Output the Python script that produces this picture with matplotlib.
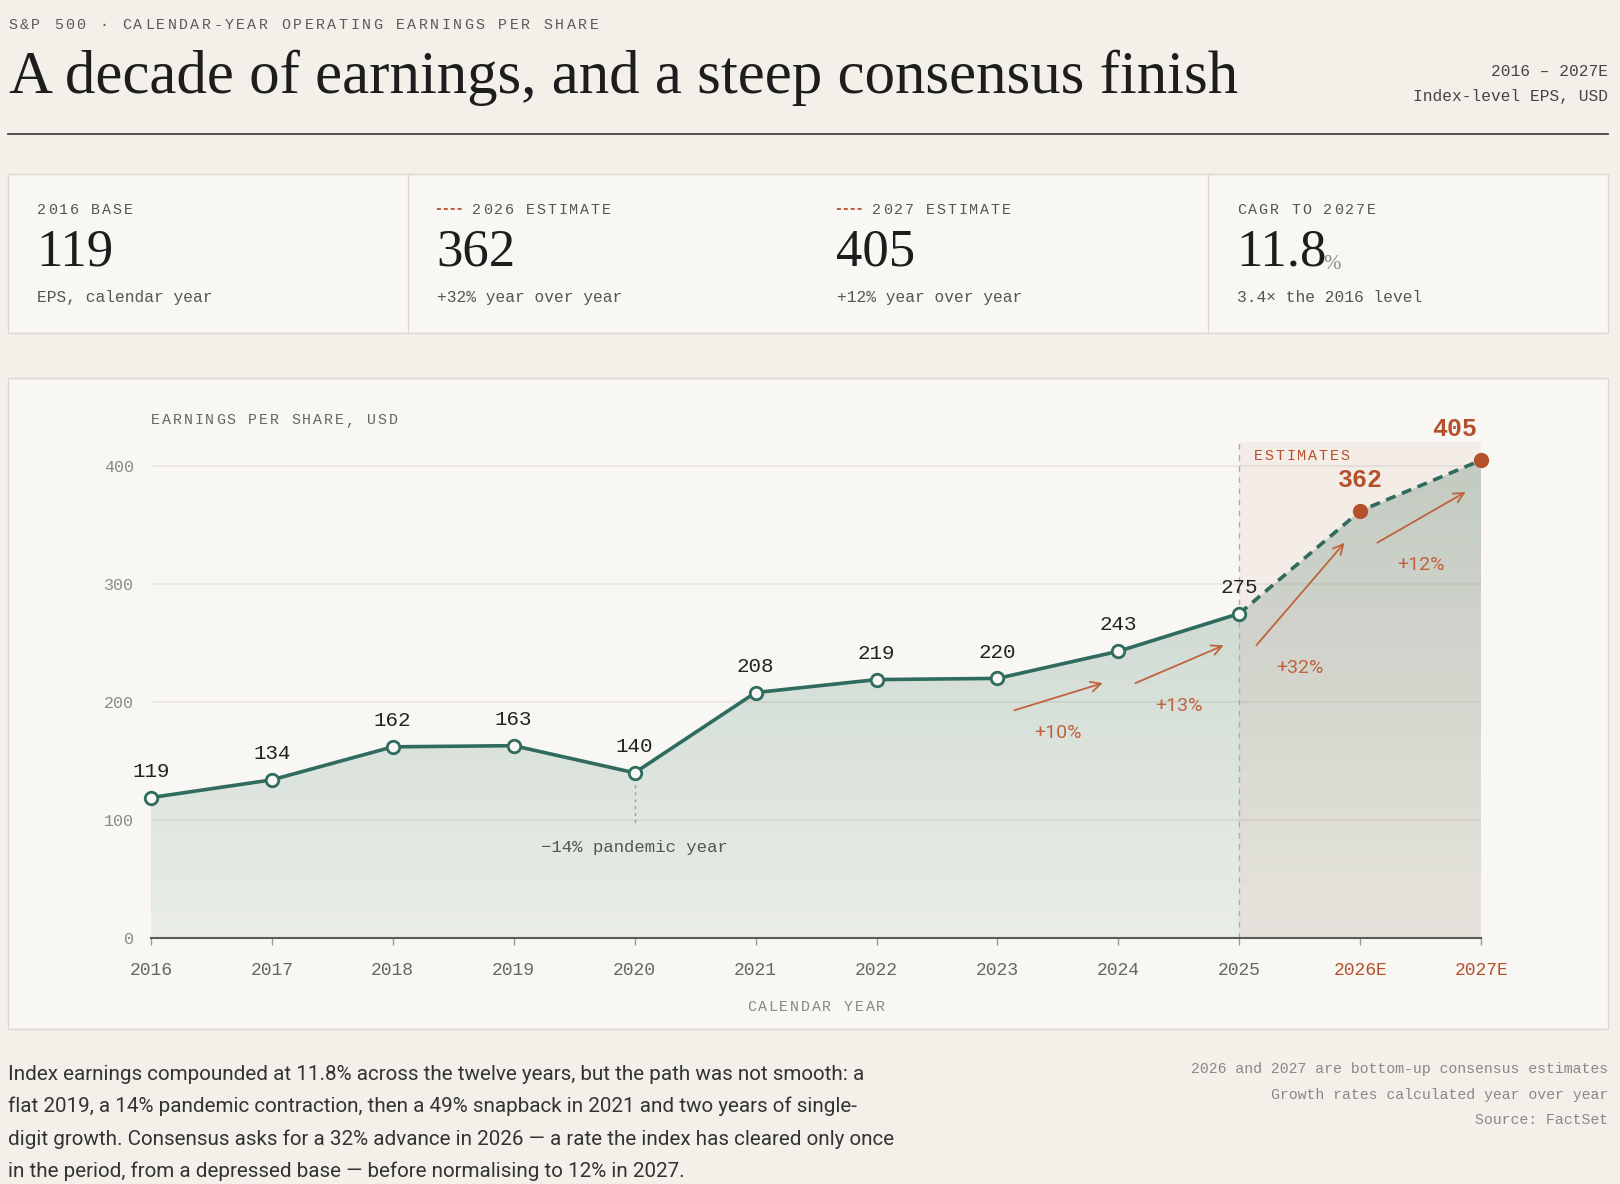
import numpy as np
import matplotlib
matplotlib.use('Agg')
import matplotlib.pyplot as plt
from matplotlib.patches import Rectangle, PathPatch
from matplotlib.colors import LinearSegmentedColormap
from matplotlib.transforms import offset_copy

# ---- data -------------------------------------------------------------
years = ['2016', '2017', '2018', '2019', '2020', '2021', '2022',
         '2023', '2024', '2025', '2026E', '2027E']
eps = [119, 134, 162, 163, 140, 208, 219, 220, 243, 275, 362, 405]
n_actual = 10                     # 2016-2025 reported, the rest consensus
growth_years = ['2023', '2024', '2025', '2026E']   # arrows start here
pandemic_year = '2020'

kicker = 'S&P 500 · CALENDAR-YEAR OPERATING EARNINGS PER SHARE'
title = 'A decade of earnings, and a steep consensus finish'
header_right = ['2016 – 2027E', 'Index-level EPS, USD']
paragraph = [
    'Index earnings compounded at 11.8% across the twelve years, but the path was not smooth: a',
    'flat 2019, a 14% pandemic contraction, then a 49% snapback in 2021 and two years of single-',
    'digit growth. Consensus asks for a 32% advance in 2026 — a rate the index has cleared only once',
    'in the period, from a depressed base — before normalising to 12% in 2027.',
]
notes = ['2026 and 2027 are bottom-up consensus estimates',
         'Growth rates calculated year over year',
         'Source: FactSet']

# ---- style ------------------------------------------------------------
BG = '#f3f0ea'
PANEL = '#f9f7f3'
BORDER = '#dcd7cf'
INK = '#1d1d1d'
TEAL = '#2f6b5f'
RUST = '#b4512d'
ARROW = '#c0633d'
MONO = ['Liberation Mono', 'DejaVu Sans Mono']
SERIF = ['Liberation Serif', 'DejaVu Serif']
SANS = ['Roboto', 'DejaVu Sans']

W, H = 1620, 1184
fig = plt.figure(figsize=(W / 100, H / 100), dpi=100, facecolor=BG)
bg = fig.add_axes([0, 0, 1, 1])
bg.set_xlim(0, W)
bg.set_ylim(H, 0)
bg.axis('off')


def spaced(axis, x, y, s, size, track, color, ha='left', transform=None, **kw):
    # letter-spaced monospace text, one glyph per slot
    transform = transform or axis.transData
    adv = 0.6 * size / 0.72
    step = adv + track
    total = step * (len(s) - 1) + adv
    start = {'left': 0, 'center': -total / 2, 'right': -total}[ha]
    for i, ch in enumerate(s):
        if ch == ' ':
            continue
        tr = offset_copy(transform, x=start + i * step + adv / 2, y=0, units='dots')
        axis.text(x, y, ch, transform=tr, fontsize=size, family=MONO,
                  color=color, ha='center', va='baseline', **kw)


def fit(t, width):
    r = fig.canvas.get_renderer()
    w = t.get_window_extent(r).width
    t.set_fontsize(t.get_fontsize() * width / w)


# ---- header -----------------------------------------------------------
spaced(bg, 8, 29, kicker, 10.8, 2.4, '#5a5a5a')
t = bg.text(9, 93, title, family=SERIF, fontsize=46, color=INK, va='baseline')
fit(t, 1230)
for k, s in enumerate(header_right):
    bg.text(1608, 75.5 + 26 * k, s, family=MONO, fontsize=11.7, color='#444',
            ha='right', va='baseline')
bg.plot([8, 1608], [134, 134], color='#333', lw=1.2)

# ---- KPI strip --------------------------------------------------------
cagr = (eps[-1] / eps[0]) ** (1 / (len(eps) - 1)) - 1
g26 = eps[10] / eps[9] - 1
g27 = eps[11] / eps[10] - 1
kpi_labels = ['2016 BASE', '2026 ESTIMATE', '2027 ESTIMATE', 'CAGR TO 2027E']
kpi_values = [str(eps[0]), str(eps[10]), str(eps[11]), f'{cagr * 100:.1f}']
kpi_subs = ['EPS, calendar year', f'+{g26 * 100:.0f}% year over year',
            f'+{g27 * 100:.0f}% year over year',
            f'{eps[-1] / eps[0]:.1f}× the 2016 level']
kpi_dash = [False, True, True, False]

bg.add_patch(Rectangle((8, 174), 1600, 159, facecolor=PANEL, edgecolor=BORDER, lw=1))
for xd in (408, 1208):
    bg.plot([xd, xd], [174, 333], color=BORDER, lw=1)
for k in range(4):
    x0 = 37 + 400 * k
    lx = x0
    if kpi_dash[k]:
        bg.plot([x0, x0 + 25], [209, 209], color=RUST, lw=1.3, dashes=(2.2, 1.6))
        lx = x0 + 35
    spaced(bg, lx, 214.5, kpi_labels[k], 10.8, 1.8, '#555')
    tv = bg.text(x0 - 1, 265.5, kpi_values[k], family=SERIF, fontsize=38,
                 color=INK, va='baseline')
    if k == 3:
        bg.annotate('%', xy=(1, 0), xycoords=tv, xytext=(-2, 2),
                    textcoords='offset points', family=SERIF, fontsize=15,
                    color='#8a8a8a', va='bottom', ha='left')
    bg.text(x0, 302, kpi_subs[k], family=MONO, fontsize=11.7, color='#555',
            va='baseline')

# ---- chart panel ------------------------------------------------------
bg.add_patch(Rectangle((8, 378), 1600, 651, facecolor=PANEL, edgecolor=BORDER, lw=1))
spaced(bg, 151, 424.5, 'EARNINGS PER SHARE, USD', 10.8, 1.8, '#666')
spaced(bg, 816, 1011, 'CALENDAR YEAR', 10.8, 1.8, '#888', ha='center')

ax = fig.add_axes([150.8 / W, (H - 938) / H, (1481.3 - 150.8) / W, (938 - 442.4) / H])
ax.patch.set_visible(False)
x = np.arange(len(years))

# gradient area under the line
poly = ax.fill_between(x, eps, 0, color='none', lw=0)
clip = PathPatch(poly.get_paths()[0], transform=ax.transData,
                 facecolor='none', edgecolor='none')
ax.add_patch(clip)
cmap = LinearSegmentedColormap.from_list('area', ['#eaede8', '#c3d2ca'])
im = ax.imshow(np.linspace(0, 1, 256).reshape(-1, 1), cmap=cmap, origin='lower',
               extent=[0, 11, 0, 420], aspect='auto', zorder=1)
im.set_clip_path(clip)

# estimates band
ax.axvspan(n_actual - 1, len(years) - 1, color=RUST, alpha=0.06, lw=0, zorder=2)
ax.axvline(n_actual - 1, color='#b3aaa2', lw=1, ls=(0, (4, 4)), zorder=2)
spaced(ax, n_actual - 1 + 0.12, 405.5, 'ESTIMATES', 10.8, 1.8, RUST)

for v in (100, 200, 300, 400):
    ax.axhline(v, color=(0.45, 0.40, 0.35), alpha=0.12, lw=1.2, zorder=3)

ax.plot(x[:n_actual], eps[:n_actual], color=TEAL, lw=2.6, zorder=5)
ax.plot(x[n_actual - 1:], eps[n_actual - 1:], color=TEAL, lw=2.6,
        dashes=(2.8, 1.9), zorder=5)
ax.plot(x[:n_actual], eps[:n_actual], 'o', ms=9, mfc=PANEL, mec=TEAL, mew=2,
        zorder=6, clip_on=False)
ax.plot(x[n_actual:], eps[n_actual:], 'o', ms=10, color=RUST, zorder=6, clip_on=False)

for i, v in enumerate(eps):
    if i < n_actual:
        ax.annotate(str(v), (i, v), xytext=(0, 15), textcoords='offset points',
                    family=MONO, fontsize=15, color='#222', ha='center', va='baseline')
    else:
        last = i == len(eps) - 1
        ax.annotate(str(v), (i, v), xytext=(-3 if last else 0, 17),
                    textcoords='offset points', family=MONO, fontsize=18,
                    fontweight='bold', color=RUST,
                    ha='right' if last else 'center', va='baseline')

# growth arrows
for y0 in growth_years:
    i = years.index(y0)
    g = round(100 * (eps[i + 1] / eps[i] - 1))
    ax.annotate('', xy=(i + 0.87, eps[i + 1] - 27), xytext=(i + 0.14, eps[i] - 27),
                arrowprops=dict(arrowstyle='->', color=ARROW, lw=1.3,
                                mutation_scale=18, shrinkA=0, shrinkB=0), zorder=7)
    ax.text(i + 0.5, eps[i] - 46, f'+{g}%', family=SANS, fontsize=14,
            color=ARROW, ha='center', va='center', zorder=7)

# pandemic note
i = years.index(pandemic_year)
drop = round(100 * (eps[i] / eps[i - 1] - 1))
ax.plot([i, i], [eps[i] - 10, 95], color='#9a9a9a', lw=1, ls=(0, (2, 3)), zorder=4)
ax.text(i, 77, f'−{abs(drop)}% pandemic year', family=MONO, fontsize=12.5,
        color='#555', ha='center', va='center', zorder=7)

ax.set_xlim(0, 11)
ax.set_ylim(0, 420)
ax.set_xticks(x, years)
ax.set_yticks([0, 100, 200, 300, 400])
for s in ('top', 'right', 'left'):
    ax.spines[s].set_visible(False)
ax.spines['bottom'].set_color('#5a5a5a')
ax.spines['bottom'].set_linewidth(1.5)
ax.spines['bottom'].set_zorder(8)
ax.tick_params(axis='x', length=5, width=1, color='#999', pad=12, labelsize=13,
               labelcolor='#666')
ax.tick_params(axis='y', length=0, pad=12, labelsize=12, labelcolor='#8a8a8a')
for lab in ax.get_xticklabels() + ax.get_yticklabels():
    lab.set_family(MONO)
for lab in ax.get_xticklabels()[n_actual:]:
    lab.set_color(RUST)

# ---- footer -----------------------------------------------------------
lines = []
for k, s in enumerate(paragraph):
    lines.append(bg.text(8, 1080 + 32.3 * k, s, family=SANS, fontsize=14,
                         color='#333', va='baseline'))
fit(lines[0], 862)
for tl in lines[1:]:
    tl.set_fontsize(lines[0].get_fontsize())
for k, s in enumerate(notes):
    bg.text(1608, 1073 + 25.5 * k, s, family=MONO, fontsize=10.7, color='#888',
            ha='right', va='baseline')

fig.savefig('out.png', dpi=100, facecolor=BG)
